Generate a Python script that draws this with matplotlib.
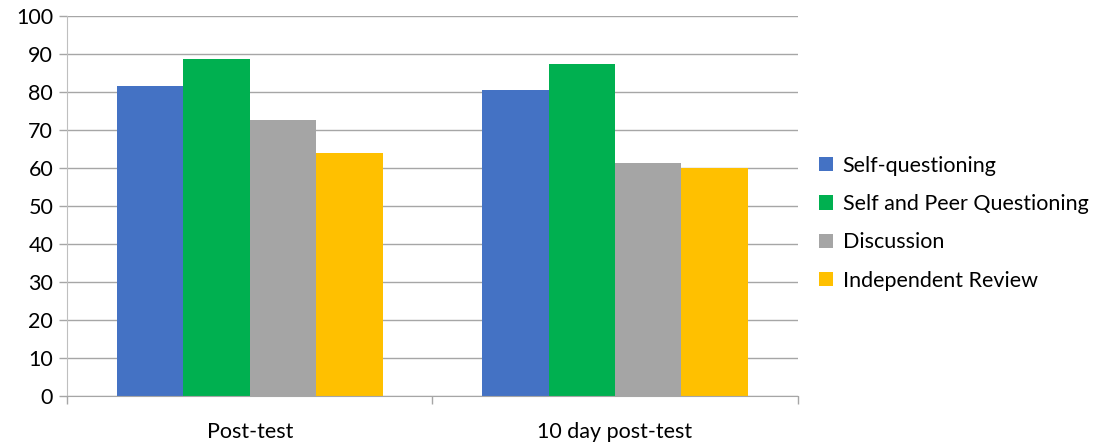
import matplotlib
matplotlib.use("Agg")
import matplotlib.pyplot as plt
import numpy as np

categories = ["Post-test", "10 day post-test"]
series_names = ["Self-questioning", "Self and Peer Questioning", "Discussion", "Independent Review"]
self_q = [81.7, 80.5]
self_peer = [88.7, 87.4]
discussion = [72.6, 61.4]
independent = [63.9, 60.0]
colors = ["#4472C4", "#00B050", "#A5A5A5", "#FFC000"]
yticks = [0, 10, 20, 30, 40, 50, 60, 70, 80, 90, 100]

plt.rcParams['font.family'] = ['Lato', 'DejaVu Sans']

fig = plt.figure(figsize=(11, 4.45), dpi=100)
ax = fig.add_axes([0.061, 0.110, 0.664, 0.854])

series = [self_q, self_peer, discussion, independent]
x = np.arange(len(categories))
w = 1 / 5.5
for i, (vals, name, c) in enumerate(zip(series, series_names, colors)):
    ax.bar(x + (i - 1.5) * w, vals, width=w, color=c, label=name, linewidth=0)

fs = 15.5
ax.set_xlim(-0.5, 1.5)
ax.set_ylim(0, 100)
ax.set_yticks(yticks)
ax.set_yticklabels([str(t) for t in yticks], fontsize=fs)
ax.set_xticks(x)
ax.set_xticklabels(categories, fontsize=fs)
ax.tick_params(axis='x', length=0, pad=19)
ax.set_xticks([-0.5, 0.5, 1.5], minor=True)
ax.tick_params(axis='x', which='minor', length=6, color='#A6A6A6', width=1)
ax.tick_params(axis='y', length=6, color='#A6A6A6', width=1, pad=4)
ax.yaxis.grid(True, color='#A6A6A6', linewidth=1)
ax.set_axisbelow(True)
for s in ['top', 'right']:
    ax.spines[s].set_visible(False)
ax.spines['left'].set_color('#BFBFBF')
ax.spines['bottom'].set_color('#A6A6A6')

ax.legend(loc='center left', bbox_to_anchor=(1.0, 0.455), frameon=False, fontsize=fs,
          handlelength=0.65, handleheight=0.65, handletextpad=0.45, labelspacing=0.85,
          borderaxespad=0.6)

fig.savefig("out.png", dpi=100)
